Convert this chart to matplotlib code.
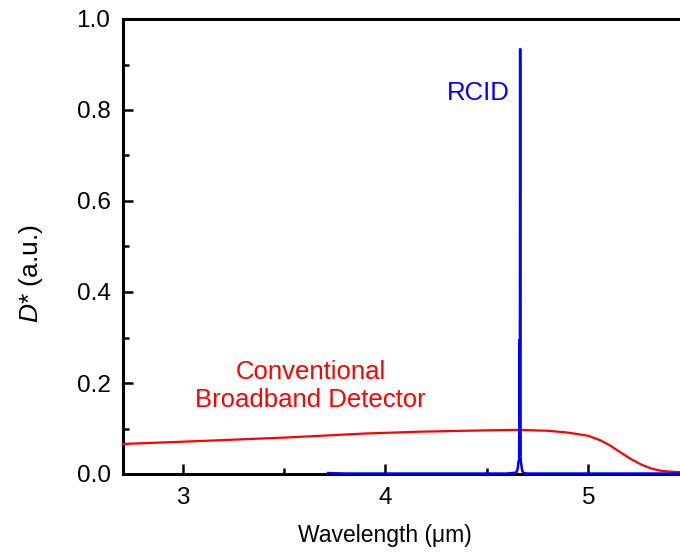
"""D* spectra of a conventional broadband detector and the RCID."""

import matplotlib

matplotlib.use("Agg")
import matplotlib.pyplot as plt
from matplotlib.ticker import MultipleLocator

# conventional broadband detector
broad_wl = [2.706, 3.0, 3.28, 3.5, 3.68, 3.9, 4.17, 4.5, 4.66, 4.8, 4.9,
            5.0, 5.06, 5.11, 5.16, 5.21, 5.26, 5.31, 5.36, 5.41, 5.452]
broad_d = [0.066, 0.071, 0.076, 0.080, 0.084, 0.089, 0.093, 0.096, 0.097,
           0.095, 0.091, 0.084, 0.074, 0.062, 0.047, 0.033, 0.021, 0.012,
           0.007, 0.005, 0.004]

# resonant-cavity infrared detector
rcid_wl = [3.717, 3.80, 4.60, 4.645, 4.652, 4.656, 4.659, 4.661, 4.6625,
           4.664, 4.6655, 4.667, 4.670, 4.674, 4.680, 4.70, 5.452]
rcid_d = [0.002, 0.001, 0.001, 0.003, 0.012, 0.028, 0.030, 0.295, 0.040,
          0.934, 0.040, 0.029, 0.020, 0.008, 0.002, 0.001, 0.001]

plt.rcParams["font.family"] = ["Liberation Sans", "DejaVu Sans"]
plt.rcParams["mathtext.fontset"] = "custom"
plt.rcParams["mathtext.it"] = "Liberation Sans:italic"
plt.rcParams["mathtext.rm"] = "Liberation Sans"

fig = plt.figure(figsize=(6.8, 5.52), dpi=100)
ax = fig.add_axes([123 / 680, 78 / 552, 557 / 680, 455 / 552])

ax.plot(broad_wl, broad_d, color="#ff0000", lw=1.6, clip_on=False, zorder=3)
ax.plot(rcid_wl, rcid_d, color="#0000ff", lw=1.8, clip_on=False, zorder=4)

ax.text(4.458, 0.838, "RCID", color="#0000ff", fontsize=18.5,
        ha="center", va="center")
ax.text(3.63, 0.193, "Conventional\nBroadband Detector", color="#ff0000",
        fontsize=18.5, ha="center", va="center", linespacing=1.2)

ax.set_xlim(2.706, 5.452)
ax.set_ylim(0, 1.0)
ax.xaxis.set_major_locator(MultipleLocator(1))
ax.xaxis.set_minor_locator(MultipleLocator(0.5))
ax.yaxis.set_major_locator(MultipleLocator(0.2))
ax.yaxis.set_minor_locator(MultipleLocator(0.1))
ax.yaxis.set_major_formatter(lambda v, _: f"{v:.1f}")

ax.tick_params(which="both", direction="in", width=1.8, labelsize=17.5,
               pad=9, top=False, right=False)
ax.tick_params(which="major", length=7)
ax.tick_params(which="minor", length=4.5)

ax.spines["right"].set_visible(False)
for side in ("left", "top", "bottom"):
    ax.spines[side].set_linewidth(2.2)

ax.set_xlabel("Wavelength (μm)", fontsize=16.5)
ax.set_ylabel(r"$D$* (a.u.)", fontsize=19)
ax.xaxis.set_label_coords(0.47, -0.11)
ax.yaxis.set_label_coords(-0.14, 0.44)

fig.savefig("out.png", dpi=100)
